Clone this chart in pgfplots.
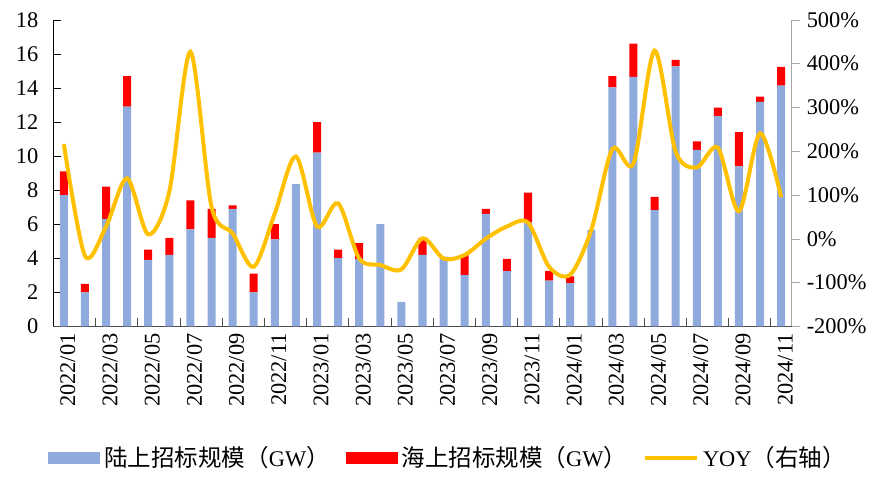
\documentclass[border=0pt]{standalone}
\usepackage{fontspec}
\setmainfont{Liberation Serif}
\newfontfamily\cjk{Noto Sans CJK SC}[Scale=1.05]
\usepackage{pgfplots}
\usepackage{pgfplotstable}
\pgfplotsset{compat=1.18}
\definecolor{onshore}{HTML}{8FAADC}
\definecolor{offshore}{HTML}{FF0000}
\definecolor{yoyc}{HTML}{FFC000}

\pgfplotstableread{
x on off yoy
0 7.7 1.4 216
1 2.0 0.5 -39
2 6.3 1.9 28
3 12.9 1.8 138
4 3.9 0.6 10
5 4.2 1.0 108
6 5.7 1.7 427
7 5.2 1.7 73
8 6.9 0.2 12
9 2.0 1.1 -64
10 5.1 0.9 58
11 8.35 0 188
12 10.2 1.8 28
13 4.0 0.5 81
14 3.94 0.94 -45
15 6.0 0 -60
16 1.43 0 -70
17 4.2 1.0 1
18 4.1 0 -45
19 3.0 1.2 -37
20 6.6 0.3 0
21 3.24 0.72 28
22 6.1 1.75 37
23 2.68 0.57 -64
24 2.53 0.41 -82
25 5.66 0 20
26 14.04 0.66 205
27 14.66 1.94 172
28 6.82 0.78 430
29 15.27 0.38 199
30 10.37 0.5 163
31 12.35 0.49 208
32 9.39 2.02 63
33 13.19 0.3 241
34 14.14 1.1 95
}\data

\begin{document}
\begin{tikzpicture}
\pgfplotsset{every axis/.append style={font=\fontsize{11.2}{13}\selectfont,
  scale only axis, width=369.2pt, height=153.2pt, xmin=-0.5, xmax=34.5,
  /pgf/number format/assume math mode=true}}
\begin{axis}[
  ybar stacked, bar width=0.38,
  ymin=0, ymax=18, ytick={0,2,...,18},
  axis x line*=bottom, axis y line*=left, axis line style={-},
  x axis line style={draw=black!70},
  y axis line style={draw=black},
  xtick={0,2,...,34},
  xticklabels={2022/01,2022/03,2022/05,2022/07,2022/09,2022/11,2023/01,2023/03,2023/05,2023/07,2023/09,2023/11,2024/01,2024/03,2024/05,2024/07,2024/09,2024/11},
  xticklabel style={rotate=90, anchor=east, yshift=-2pt},
  yticklabel style={xshift=-4pt},
  major x tick style={draw=none},
  minor xtick={1.5,3.5,...,33.5}, minor tick length=4pt,
  minor x tick style={draw=black!70},
  tick align=inside, major tick length=4pt,
  ytick style={draw=black},
]
\addplot[fill=onshore, draw=none] table[x=x,y=on]{\data};
\addplot[fill=offshore, draw=none] table[x=x,y=off]{\data};
\coordinate (sw) at (rel axis cs:0,0);
\end{axis}
\begin{axis}[
  ymin=-200, ymax=500, ytick={-200,-100,...,500},
  axis y line*=right, axis x line=none, axis line style={-},
  y axis line style={draw=black!35},
  ytick style={draw=black!35},
  tick align=outside, major tick length=4pt,
  yticklabel={\pgfmathprintnumber{\tick}\%},
  legend style={at={(0.536,-0.43)}, anchor=center, draw=none, fill=none,
    legend columns=3, font=\fontsize{11.2}{13}\selectfont,
    /tikz/every even column/.append style={column sep=6pt}},
]
\addlegendimage{legend image code/.code={\fill[onshore] (0pt,-2.75pt) rectangle (25.5pt,2.75pt);}}
\addlegendentry{{\cjk 陆上招标规模（}GW{\cjk ）}}
\addlegendimage{legend image code/.code={\fill[offshore] (0pt,-2.75pt) rectangle (25.5pt,2.75pt);}}
\addlegendentry{{\cjk 海上招标规模（}GW{\cjk ）}}
\addplot[yoyc, line width=2pt, smooth, tension=0.5,
  legend image code/.code={\draw[yoyc, line width=2pt] (0pt,0pt) -- (26pt,0pt);}]
  table[x=x,y=yoy]{\data};
\addlegendentry{YOY{\cjk （右轴）}}
\end{axis}
\path (sw) ++(-26.65pt,-71.85pt) rectangle ++(438pt,235pt);
\end{tikzpicture}
\end{document}
